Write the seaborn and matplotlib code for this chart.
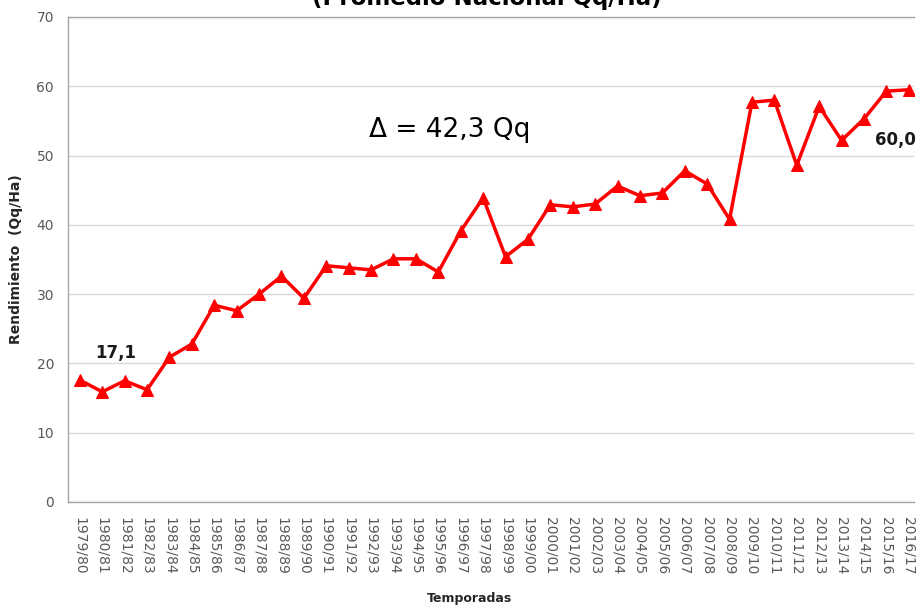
import numpy as np
import pandas as pd
import matplotlib
matplotlib.use("Agg")
import matplotlib.pyplot as plt
import seaborn as sns

# Data
seasons = ["1979/80", "1980/81", "1981/82", "1982/83", "1983/84", "1984/85",
           "1985/86", "1986/87", "1987/88", "1988/89", "1989/90", "1990/91",
           "1991/92", "1992/93", "1993/94", "1994/95", "1995/96", "1996/97",
           "1997/98", "1998/99", "1999/00", "2000/01", "2001/02", "2002/03",
           "2003/04", "2004/05", "2005/06", "2006/07", "2007/08", "2008/09",
           "2009/10", "2010/11", "2011/12", "2012/13", "2013/14", "2014/15",
           "2015/16", "2016/17"]
yields = [17.6, 15.9, 17.5, 16.2, 20.9, 22.8, 28.4, 27.6, 30.0, 32.6,
          29.4, 34.1, 33.8, 33.5, 35.1, 35.1, 33.2, 39.1, 43.9, 35.4,
          37.9, 42.9, 42.6, 43.0, 45.6, 44.2, 44.6, 47.8, 45.9, 40.8,
          57.7, 58.0, 48.6, 57.1, 52.2, 55.3, 59.3, 59.5]
y_ticks = [0, 10, 20, 30, 40, 50, 60, 70]

df = pd.DataFrame({"pos": np.arange(len(seasons)), "season": seasons, "yield": yields})

sns.set_theme(style="whitegrid")
plt.rcParams["font.family"] = ["DejaVu Sans"]

fig = plt.figure(figsize=(9.16, 6.07), dpi=100)
ax = fig.add_axes([0.0742, 0.173, 0.998 - 0.0742, 0.972 - 0.173])

sns.lineplot(data=df, x="pos", y="yield", ax=ax, color="#ff0000", linewidth=2.5,
             marker="^", markersize=8, markeredgecolor="#ff0000", sort=False)

ax.set_xlim(-0.53, 37.24)
ax.set_ylim(0, 70)
ax.set_yticks(y_ticks)
ax.set_yticklabels([str(v) for v in y_ticks], color="#595959", fontsize=10)
ax.set_xticks(df["pos"])
ax.set_xticklabels(seasons, rotation=270, color="#595959", fontsize=10, va="top", ha="center")
ax.tick_params(axis="x", pad=11, length=0)
ax.tick_params(axis="y", pad=10, length=0)

ax.grid(axis="x", visible=False)
ax.grid(axis="y", color="#d9d9d9", linewidth=1)
ax.spines["right"].set_visible(False)
for side in ["left", "bottom", "top"]:
    ax.spines[side].set_color("#a6a6a6")
    ax.spines[side].set_linewidth(1)

ax.set_xlabel("Temporadas", fontsize=9, fontweight="bold")
ax.set_ylabel("Rendimiento  (Qq/Ha)", fontsize=10, fontweight="bold", labelpad=10)
ax.xaxis.set_label_coords(0.475, -0.185)

# Annotations
ax.text(16.5, 53.7, "Δ = 42,3 Qq", fontsize=19, ha="center", va="center", color="black")
ax.text(1.6, 21.5, "17,1", fontsize=12, fontweight="bold", ha="center", va="center", color="#1a1a1a")
ax.text(36.4, 52.2, "60,0", fontsize=12, fontweight="bold", ha="center", va="center",
        color="#1a1a1a", clip_on=False)

# Title, cut off at the top as in the reference
fig.text(0.532, 1.003, "(Promedio Nacional Qq/Ha)", fontsize=16.5, fontweight="bold",
         ha="center", va="center", color="black")

fig.savefig("out.png", dpi=100)
